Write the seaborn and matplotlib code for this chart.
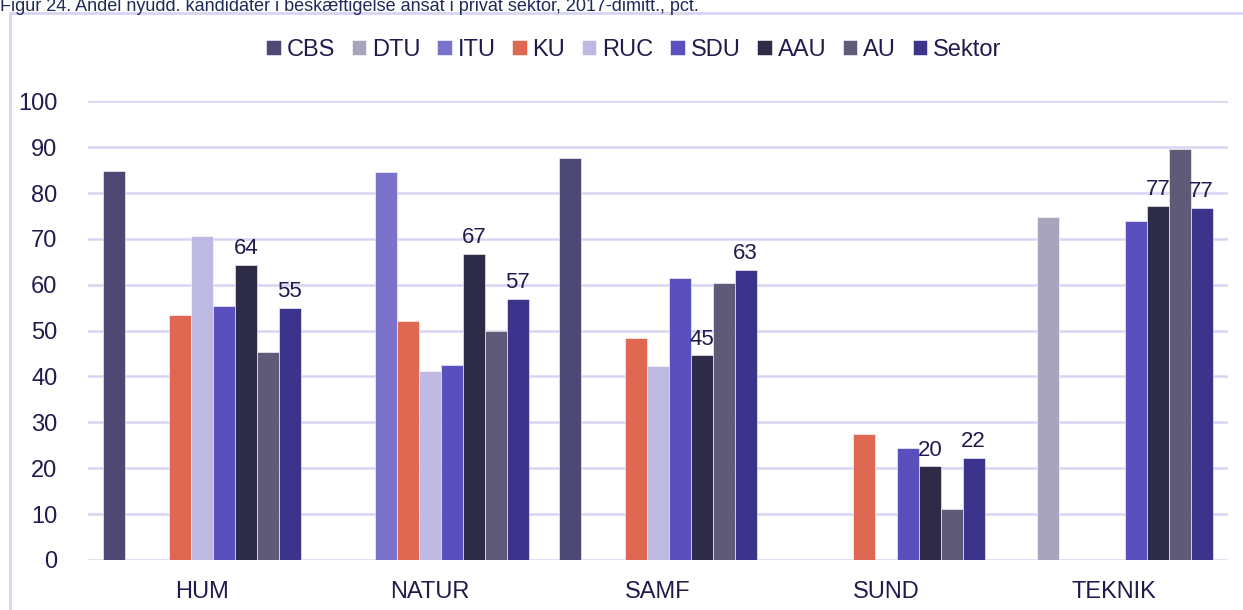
import numpy as np
import pandas as pd
import matplotlib
matplotlib.use("Agg")
import matplotlib.pyplot as plt
from matplotlib.patches import Rectangle
import seaborn as sns

# Data (pct. of new graduates employed in private sector, 2017 graduates)
sectors = ["HUM", "NATUR", "SAMF", "SUND", "TEKNIK"]
universities = ["CBS", "DTU", "ITU", "KU", "RUC", "SDU", "AAU", "AU", "Sektor"]
nan = np.nan
cbs = [84.7, nan, 87.6, nan, nan]
dtu = [nan, nan, nan, nan, 74.8]
itu = [nan, 84.6, nan, nan, nan]
ku = [53.5, 52.0, 48.5, 27.5, nan]
ruc = [70.6, 41.3, 42.2, nan, nan]
sdu = [55.4, 42.4, 61.5, 24.5, 73.8]
aau = [64.4, 66.8, 44.6, 20.4, 77.2]
au = [45.4, 50.0, 60.3, 11.2, 89.6]
sektor = [55.0, 57.0, 63.3, 22.3, 76.8]
labelled = ["AAU", "Sektor"]

colors = ["#4e4874", "#a8a4bc", "#7b73cb", "#e06852", "#bdb9e3",
          "#5a50bd", "#2e2b47", "#5f5a78", "#3c348c"]
text_col = "#1f1b4d"
grid_col = "#d8d4f2"

series = [cbs, dtu, itu, ku, ruc, sdu, aau, au, sektor]
rows = []
for uni, vals in zip(universities, series):
    for sec, v in zip(sectors, vals):
        rows.append({"Sektor_omr": sec, "Uni": uni, "Andel": v})
df = pd.DataFrame(rows)

sns.set_theme(style="white")
plt.rcParams["font.family"] = ["Liberation Sans", "DejaVu Sans"]
plt.rcParams["text.color"] = text_col

fig = plt.figure(figsize=(12.43, 6.10), dpi=100)
ax = fig.add_axes([0.0708, 0.082, 0.9172, 0.752])

sns.barplot(data=df, x="Sektor_omr", y="Andel", hue="Uni", order=sectors,
            hue_order=universities, palette=colors, saturation=1, width=0.865,
            edgecolor="white", linewidth=0.4, ax=ax, legend=True)

# value labels on AAU and Sektor bars
for uni, cont in zip(universities, ax.containers):
    if uni in labelled:
        ax.bar_label(cont, fmt="%.0f", padding=4, fontsize=16, color=text_col)

ax.set_ylim(0, 100)
ax.set_yticks(range(0, 101, 10))
ax.set_xlim(-0.5, 4.5)
ax.yaxis.grid(True, color=grid_col, linewidth=1.8)
ax.set_axisbelow(True)
for s in ax.spines.values():
    s.set_visible(False)
ax.tick_params(axis="both", length=0, labelsize=17, labelcolor=text_col)
ax.tick_params(axis="y", pad=22)
ax.tick_params(axis="x", pad=15)
ax.set_xlabel("")
ax.set_ylabel("")

handles, labels = ax.get_legend_handles_labels()
ax.legend_.remove()
fig.legend(handles, labels, loc="center", bbox_to_anchor=(0.51, 0.918),
           ncol=9, frameon=False, fontsize=17, handlelength=0.6,
           handleheight=0.6, handletextpad=0.25, columnspacing=0.72,
           labelcolor=text_col)

# frame around the chart, partly outside the picture like the source
fig.patches.append(Rectangle((10 / 1243, -0.05), 1.1, 1 - 13 / 610 + 0.05,
                             transform=fig.transFigure, fill=False,
                             edgecolor=grid_col, linewidth=2))

fig.text(0.0, 1 - 11 / 610,
         "Figur 24. Andel nyudd. kandidater i beskæftigelse ansat i privat sektor, 2017-dimitt., pct.",
         fontsize=13, color="#1d2a5a", va="baseline", ha="left")

fig.savefig("out.png", dpi=100)
